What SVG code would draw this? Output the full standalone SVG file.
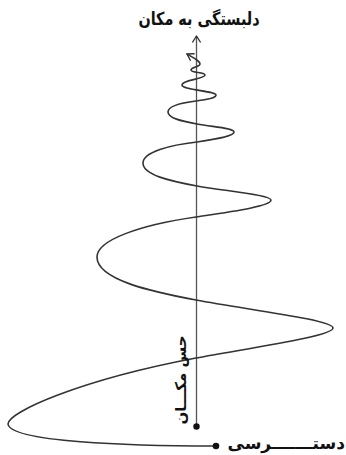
<svg xmlns="http://www.w3.org/2000/svg" width="346" height="455" viewBox="0 0 346 455">
<style>
.lbl{font-family:"DejaVu Sans","Noto Sans",sans-serif;font-weight:bold;fill:#111}
.curve{fill:none;stroke:#333;stroke-width:1.6;stroke-linecap:round}
.axis{fill:none;stroke:#555;stroke-width:1.3}
.arr{fill:none;stroke:#333;stroke-width:1.4;stroke-linecap:round;stroke-linejoin:round}
</style>
<defs>
<marker id="open" markerWidth="12" markerHeight="12" refX="0" refY="0" viewBox="-8 -6 10 12" orient="auto" markerUnits="userSpaceOnUse">
<path d="M-6,-3.8 L0,0 L-6,3.8" class="arr"/>
</marker>
</defs>
<g id="connectors">
<path id="axis" class="axis" d="M196.5,426 L196.5,36" marker-end="url(#open)"/>
<path id="spiral" class="curve" marker-end="url(#open)" d="M216,446 C130,446 10,442 8,424 C8,412 80,380 196,358 C256,347 333,336 333,328 C333,320 250,310 196,300 C153,292 97,280 97,257 C97,240 140,225 196,217 C236,211 271,206 271,200 C271,195 225,191 197,186 C170,181 143,175 143,163 C143,152 170,145 197,142 C217,139 234,136 234,132 C234,128 213,127 197,124 C181,121 168,118 168,112 C168,106 180,103 196,101 C208,99.5 216,98 216,95 C216,91 182,90 182,85 C182,80 205,79 205,75 C205,72 191,73 191,70 C191,67 200,67 200,64 C200,61 194,58 187,54"/>
</g>
<g id="node-top">
<text class="lbl" transform="translate(199,25) scale(0.8,1)" font-size="18" text-anchor="middle">دلبستگی به مکان</text>
</g>
<g id="node-origin">
<circle cx="196.5" cy="426.5" r="3.2" fill="#111"/>
<text class="lbl" transform="translate(186,380) rotate(-90)" font-size="15" text-anchor="middle">حس مکـــان</text>
</g>
<g id="node-access">
<circle cx="216" cy="446" r="3.3" fill="#111"/>
<text class="lbl" x="345" y="449" font-size="17" text-anchor="end">دستـــــــرسی</text>
</g>
</svg>
